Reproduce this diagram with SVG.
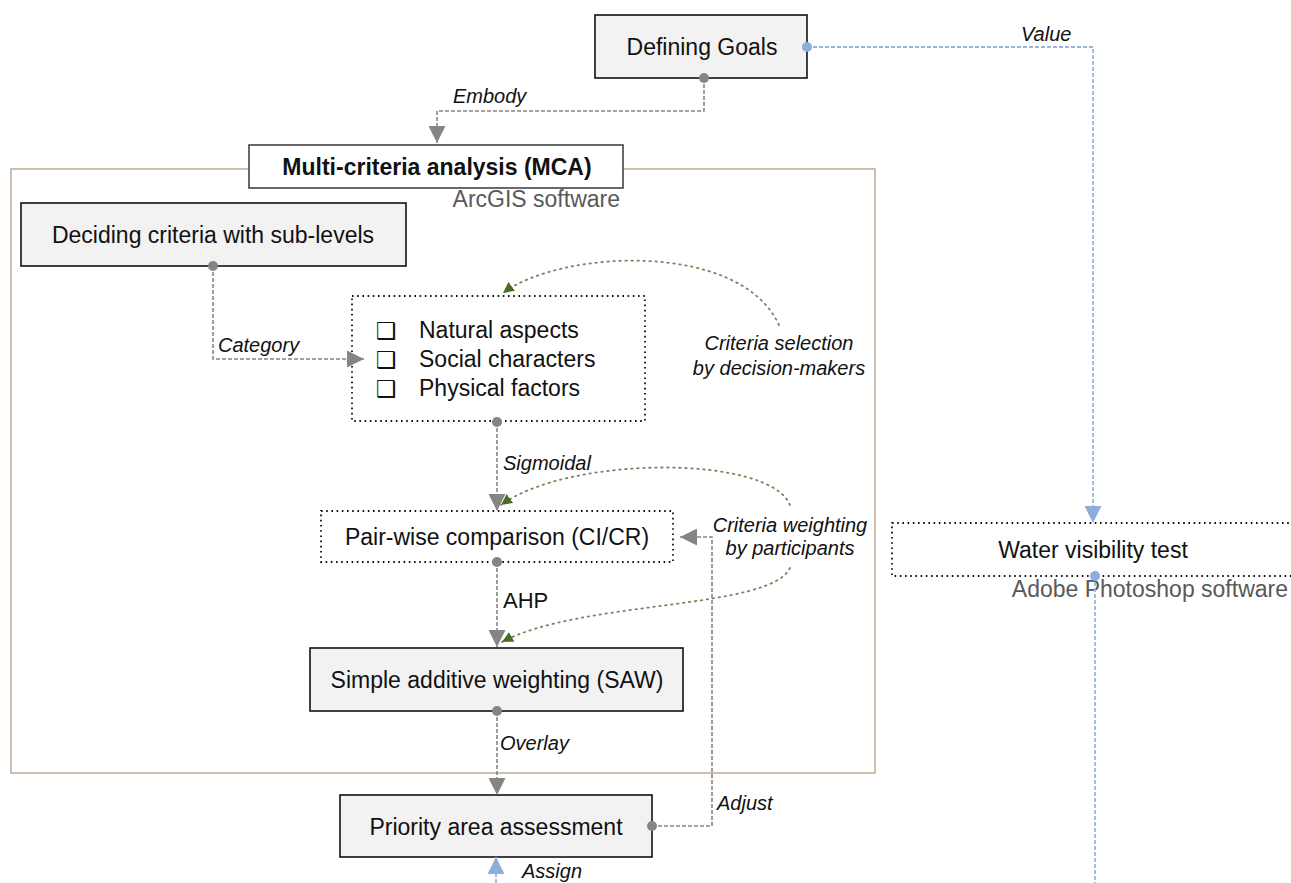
<svg xmlns="http://www.w3.org/2000/svg" width="1291" height="883" viewBox="0 0 1291 883">
<style>
text{font-family:"Liberation Sans",Arial,sans-serif;fill:#111}
.node{fill:#f2f2f2;stroke:#111;stroke-width:1.6}
.dotbox{fill:#fff;stroke:#111;stroke-width:1.8;stroke-dasharray:1.6 3.6}
.nt{font-size:23px;text-anchor:middle}
.lbl{font-size:20px;font-style:italic}
.sw{font-size:23px;fill:#595959}
.gc{fill:none;stroke:#858585;stroke-width:1.6;stroke-dasharray:4 2}
.bc{fill:none;stroke:#9bb5da;stroke-width:1.8;stroke-dasharray:4 2}
.grn{fill:none;stroke:#77865a;stroke-width:1.8;stroke-dasharray:1.5 4.5;stroke-linecap:round}
.gdot{fill:#858585}
.bdot{fill:#8eaddb}
.chk{font-family:"DejaVu Sans",sans-serif;font-size:23px;font-weight:bold}
</style>
<defs>
<marker id="ag" viewBox="0 0 10 10" refX="10" refY="5" markerWidth="17" markerHeight="17" markerUnits="userSpaceOnUse" orient="auto"><path d="M0,0 L10,5 L0,10 z" fill="#858585"/></marker>
<marker id="ab" viewBox="0 0 10 10" refX="10" refY="5" markerWidth="17" markerHeight="17" markerUnits="userSpaceOnUse" orient="auto"><path d="M0,0 L10,5 L0,10 z" fill="#8eaddb"/></marker>
<marker id="agr" viewBox="0 0 10 10" refX="10" refY="5" markerWidth="11" markerHeight="11" markerUnits="userSpaceOnUse" orient="auto"><path d="M0,0 L10,5 L0,10 z" fill="#4c6a28"/></marker>
</defs>

<g id="mca-container">
<rect x="11" y="169" width="864" height="604" fill="none" stroke="#c4b09c" stroke-width="1.6"/>
</g>

<g id="defining-goals">
<rect class="node" x="595" y="15" width="212" height="63"/>
<text class="nt" x="702" y="55">Defining Goals</text>
</g>

<g id="mca">
<rect x="249" y="145" width="374" height="43" fill="#fff" stroke="#444" stroke-width="1.6"/>
<text class="nt" x="437" y="175" font-weight="bold">Multi-criteria analysis (MCA)</text>
<text class="sw" x="620" y="207" text-anchor="end">ArcGIS software</text>
</g>

<g id="deciding-criteria">
<rect class="node" x="21" y="203" width="385" height="63"/>
<text class="nt" x="213" y="243">Deciding criteria with sub-levels</text>
</g>

<g id="criteria-list">
<rect class="dotbox" x="352" y="296" width="293" height="125"/>
<text class="chk" x="376" y="339">❑</text>
<text class="chk" x="376" y="368">❑</text>
<text class="chk" x="376" y="397">❑</text>
<text x="419" y="338" font-size="23">Natural aspects</text>
<text x="419" y="367" font-size="23">Social characters</text>
<text x="419" y="396" font-size="23">Physical factors</text>
</g>

<g id="pairwise">
<rect class="dotbox" x="321" y="511" width="352" height="51"/>
<text class="nt" x="497" y="545">Pair-wise comparison (CI/CR)</text>
</g>

<g id="saw">
<rect class="node" x="310" y="648" width="373" height="63"/>
<text class="nt" x="497" y="688">Simple additive weighting (SAW)</text>
</g>

<g id="priority">
<rect class="node" x="340" y="795" width="312" height="62"/>
<text class="nt" x="496" y="835">Priority area assessment</text>
</g>

<g id="water-visibility">
<rect class="dotbox" x="892" y="523" width="402" height="53"/>
<text class="nt" x="1093" y="558">Water visibility test</text>
<text class="sw" x="1288" y="597" text-anchor="end">Adobe Photoshop software</text>
</g>

<g id="connectors">
<path class="gc" d="M704,78 V111 H437 V143" marker-end="url(#ag)"/>
<circle class="gdot" cx="704" cy="78" r="5"/>
<text class="lbl" x="453" y="103">Embody</text>

<path class="bc" d="M807,47 H1093 V523" marker-end="url(#ab)"/>
<circle class="bdot" cx="807" cy="47" r="5"/>
<text class="lbl" x="1021" y="41">Value</text>

<path class="gc" d="M213,266 V359 H364" marker-end="url(#ag)"/>
<circle class="gdot" cx="213" cy="266" r="5"/>
<text class="lbl" x="218" y="352">Category</text>

<path class="grn" d="M779,325 C740,240 560,250 503,293" marker-end="url(#agr)"/>
<text class="lbl" x="779" y="350" text-anchor="middle">Criteria selection</text>
<text class="lbl" x="779" y="375" text-anchor="middle">by decision-makers</text>

<path class="gc" d="M497,422 V511" marker-end="url(#ag)"/>
<circle class="gdot" cx="497" cy="422" r="5"/>
<text class="lbl" x="503" y="470">Sigmoidal</text>

<path class="grn" d="M790,505 C770,455 570,455 501,505" marker-end="url(#agr)"/>
<text class="lbl" x="790" y="532" text-anchor="middle">Criteria weighting</text>
<text class="lbl" x="790" y="555" text-anchor="middle">by participants</text>

<path class="gc" d="M497,562 V647" marker-end="url(#ag)"/>
<circle class="gdot" cx="497" cy="562" r="5"/>
<text x="503" y="608" font-size="22">AHP</text>

<path class="grn" d="M790,568 C770,610 580,600 502,642" marker-end="url(#agr)"/>

<path class="gc" d="M497,711 V795" marker-end="url(#ag)"/>
<circle class="gdot" cx="497" cy="711" r="5"/>
<text class="lbl" x="500" y="750">Overlay</text>

<path class="gc" d="M652,826 H712 V537 H680" marker-end="url(#ag)"/>
<circle class="gdot" cx="652" cy="826" r="5"/>
<text class="lbl" x="717" y="810">Adjust</text>

<path class="bc" d="M1095,576 V883"/>
<circle class="bdot" cx="1095" cy="576" r="5"/>

<path class="bc" d="M496,883 V857" marker-end="url(#ab)"/>
<text class="lbl" x="522" y="878">Assign</text>
</g>
</svg>
